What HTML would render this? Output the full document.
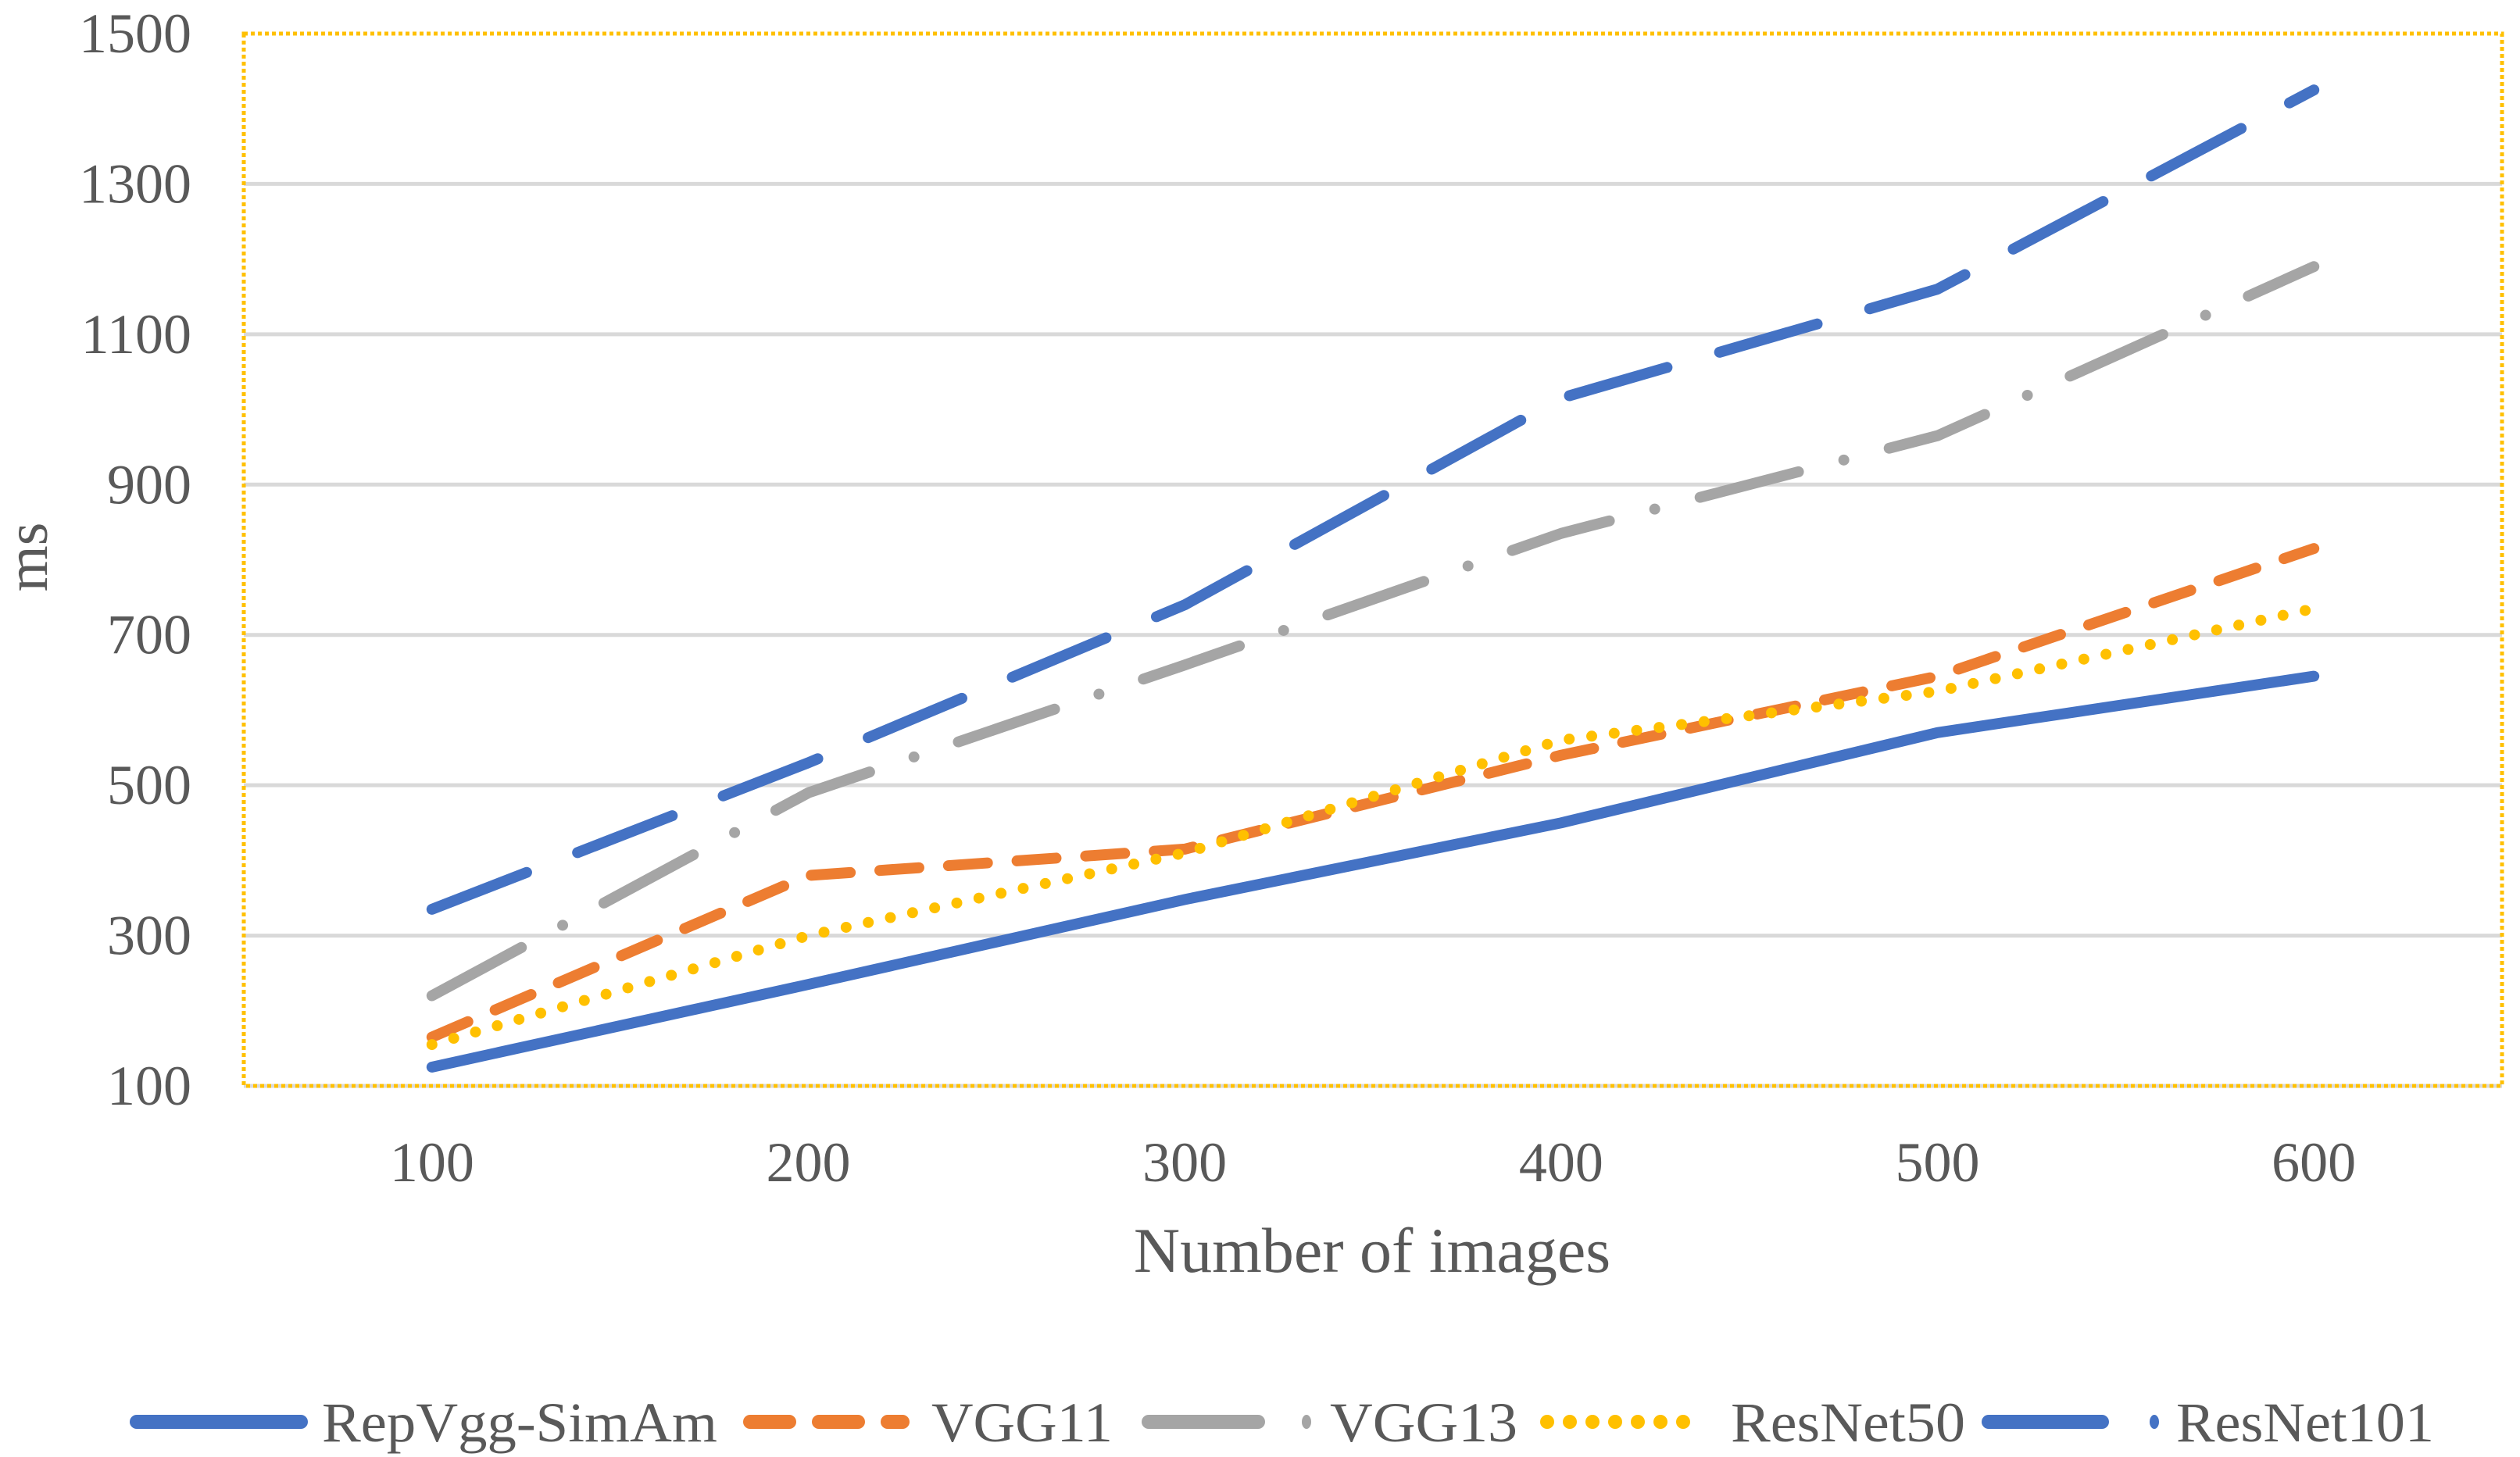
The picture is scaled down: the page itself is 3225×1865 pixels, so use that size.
<!DOCTYPE html>
<html><head><meta charset="utf-8"><style>
html,body{margin:0;padding:0;background:#fff;}
svg{display:block;font-family:"Liberation Serif",serif;}
</style></head><body>
<svg id="chart" width="3225" height="1865" viewBox="0 0 3225 1865" xmlns="http://www.w3.org/2000/svg">
<g id="grid"></g>
<rect x="312" y="43" width="2890" height="1347" fill="none" stroke="#FFC000" stroke-width="5" stroke-dasharray="5 4"/>
<g id="yticks"></g>
<g id="xticks"></g>
<g id="series"></g>
<text x="0" y="0" transform="translate(60,713) rotate(-90)" text-anchor="middle" font-size="76" fill="#595959">ms</text>
<text x="1756" y="1628" text-anchor="middle" font-size="82" fill="#595959">Number of images</text>
<g id="legend"></g>
</svg>
<script>
const categories = [100, 200, 300, 400, 500, 600];
const yTicks = [100, 300, 500, 700, 900, 1100, 1300, 1500];
const seriesNames = ["RepVgg-SimAm", "VGG11", "VGG13", "ResNet50", "ResNet101"];
const repvggValues = [125, 235, 348, 450, 570, 645];
const vgg11Values = [165, 380, 415, 540, 645, 815];
const vgg13Values = [220, 490, 660, 835, 965, 1190];
const resnet50Values = [155, 300, 410, 560, 625, 735];
const resnet101Values = [335, 530, 740, 1015, 1160, 1425];

const NS = "http://www.w3.org/2000/svg";
const L = 312, R = 3202, T = 43, B = 1390, yMin = 100, yMax = 1500;
const band = (R - L) / categories.length;
const xPos = i => L + band * (i + 0.5);
const yPos = v => B - (v - yMin) / (yMax - yMin) * (B - T);
function mk(tag, attrs, parent) { const e = document.createElementNS(NS, tag); for (const k in attrs) e.setAttribute(k, attrs[k]); parent.appendChild(e); return e; }

const grid = document.getElementById('grid');
const yt = document.getElementById('yticks');
yTicks.forEach(v => {
  if (v !== yMax) {
    const g = mk('line', {x1: L, x2: R, y1: yPos(v), y2: yPos(v), stroke: '#d9d9d9', 'stroke-width': 5}, grid);
    
    
  }
  const t = mk('text', {x: 245, y: yPos(v) + 24, 'text-anchor': 'end', 'font-size': 72, fill: '#595959'}, yt);
  t.textContent = v;
  
  
});
const xt = document.getElementById('xticks');
categories.forEach((c, i) => {
  const t = mk('text', {x: xPos(i), y: 1512, 'text-anchor': 'middle', 'font-size': 72, fill: '#595959'}, xt);
  t.textContent = c;
  
  
});

const styles = [
  {color: '#4472C4', dash: 'none'},
  {color: '#ED7D31', dash: '50 38'},
  {color: '#A5A5A5', dash: '130 60 0 60'},
  {color: '#FFC000', dash: '0 29'},
  {color: '#4472C4', dash: '130 70'}
];
const allValues = [repvggValues, vgg11Values, vgg13Values, resnet50Values, resnet101Values];
const sg = document.getElementById('series');
allValues.forEach((vals, s) => {
  const d = vals.map((v, i) => (i ? 'L' : 'M') + xPos(i).toFixed(1) + ' ' + yPos(v).toFixed(1)).join(' ');
  const p = mk('path', {d: d, fill: 'none', stroke: styles[s].color, 'stroke-width': 14, 'stroke-linecap': 'round', 'stroke-linejoin': 'round', 'stroke-dasharray': styles[s].dash}, sg);
  
  
});

const lg = document.getElementById('legend');
const legendItems = [
  {x1: 175, x2: 385, tx: 412, w: 506},
  {x1: 960, x2: 1155, tx: 1192, w: 232},
  {x1: 1470, x2: 1610, tx: 1702, w: 240, dot: 1672},
  {x1: 1980, x2: 2178, tx: 2215, w: 300},
  {x1: 2545, x2: 2690, tx: 2785, w: 330, dot: 2757}
];
legendItems.forEach((it, s) => {
  const g = mk('g', {}, lg);
  
  
  const dash = s === 2 || s === 4 ? 'none' : styles[s].dash;
  const ln = mk('line', {x1: it.x1, x2: it.x2, y1: 1820, y2: 1820, stroke: styles[s].color, 'stroke-width': 18, 'stroke-linecap': 'round', 'stroke-dasharray': dash}, g);
  
  
  if (it.dot) {
    const c = mk('ellipse', {cx: it.dot, cy: 1820, rx: 6, ry: 9, fill: styles[s].color}, g);
    
    
  }
  const t = mk('text', {x: it.tx, y: 1845, 'font-size': 72, fill: '#595959', textLength: it.w, lengthAdjust: 'spacingAndGlyphs'}, g);
  t.textContent = seriesNames[s];
  
  
});
</script>
</body></html>
